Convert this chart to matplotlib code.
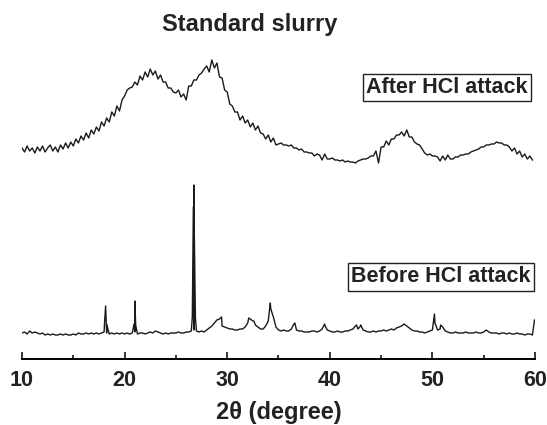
import numpy as np
import matplotlib
matplotlib.use("Agg")
import matplotlib.pyplot as plt
from matplotlib.ticker import MultipleLocator

plt.rcParams['font.family'] = ['Liberation Sans', 'DejaVu Sans']

# top curve (after HCl attack), sampled every 0.25 deg from 10
after_x = np.arange(10, 60, 0.25)
after_y = [
    209, 205, 211, 206, 209, 204, 210, 206, 211, 205, 209, 212, 206, 210, 205, 212,
    208, 214, 209, 215, 211, 218, 214, 221, 217, 224, 219, 227, 223, 230, 226, 235,
    231, 239, 235, 245, 241, 251, 246, 257, 261, 267, 269, 270, 275, 272, 281, 277,
    285, 280, 288, 282, 286, 278, 282, 275, 275, 269, 269, 265, 264, 267, 260, 263,
    257, 271, 271, 277, 277, 282, 284, 288, 291, 285, 297, 289, 294, 280, 279, 267,
    265, 253, 251, 245, 245, 237, 241, 234, 237, 230, 234, 227, 231, 224, 223, 218,
    222, 215, 219, 212, 213, 214, 212, 212, 211, 212, 209, 209, 207, 208, 205, 205,
    204, 204, 201, 203, 202, 197, 203, 198, 198, 199, 197, 197, 196, 197, 195, 196,
    195, 195, 194, 196, 197, 198, 198, 199, 201, 201, 206, 194, 210, 210, 216, 212,
    218, 218, 222, 222, 225, 221, 227, 220, 220, 215, 213, 212, 208, 204, 202, 203,
    201, 201, 200, 196, 201, 197, 202, 198, 198, 200, 200, 202, 202, 203, 203, 205,
    206, 207, 208, 210, 210, 212, 212, 213, 213, 215, 214, 214, 212, 212, 210, 206,
    209, 203, 206, 200, 203, 198, 201, 197,
]

# bottom curve (before HCl attack): baseline every 0.25 deg plus peak samples
before_base_x = np.arange(10, 60.01, 0.25)
before_base_y = [
    24, 25, 23, 26, 24, 25, 24, 23, 24, 22, 23, 22, 23, 22, 22, 23,
    22, 23, 22, 22, 23, 22, 24, 23, 23, 24, 23, 24, 23, 24, 23, 24,
    25, 24, 23, 24, 23, 24, 23, 24, 23, 24, 23, 24, 25, 23, 24, 24,
    23, 24, 25, 24, 26, 25, 24, 23, 24, 23, 24, 24, 24, 25, 24, 24,
    25, 25, 26, 27, 26, 25, 26, 25, 27, 29, 31, 34, 37, 38, 31, 30,
    29, 28, 28, 27, 27, 28, 28, 30, 34, 38, 36, 32, 30, 28, 28, 31,
    36, 48, 40, 30, 27, 26, 27, 26, 26, 28, 33, 27, 26, 26, 25, 25,
    25, 26, 26, 25, 26, 28, 32, 27, 26, 25, 25, 26, 25, 25, 26, 26,
    27, 28, 31, 28, 31, 27, 26, 25, 25, 26, 25, 26, 26, 27, 26, 27,
    28, 27, 29, 30, 31, 33, 31, 29, 27, 26, 26, 25, 25, 24, 25, 26,
    27, 34, 27, 28, 30, 26, 25, 24, 24, 25, 24, 24, 24, 25, 24, 24,
    24, 25, 24, 24, 25, 27, 25, 24, 24, 24, 23, 24, 24, 23, 24, 23,
    23, 24, 23, 23, 22, 23, 23, 22, 37,
]
peak_x = [18.05, 18.15, 18.25, 20.92, 21.0, 21.08, 26.6, 26.7, 26.75, 26.8, 26.9,
          29.45, 32.1, 32.6, 34.2, 36.6, 39.5, 42.6, 43.0, 50.2, 50.8, 59.95]
peak_y = [35, 51, 33, 33, 56, 32, 40, 150, 172, 120, 40,
          40, 39, 36, 54, 34, 33, 32, 32, 43, 32, 37]

bx = np.concatenate([before_base_x, peak_x])
by = np.concatenate([before_base_y, peak_y])
order = np.argsort(bx)
bx, by = bx[order], by[order]

fig = plt.figure(figsize=(5.47, 4.25), dpi=100)
ax = fig.add_axes([22/547, 66/425, 513/547, 319/425])

ax.plot(after_x, after_y, color='#1a1a1a', lw=1.0)
ax.plot(bx, by, color='#1a1a1a', lw=1.0)

ax.set_xlim(10, 60)
ax.set_ylim(-2, 317)
for s in ['top', 'left', 'right']:
    ax.spines[s].set_visible(False)
ax.spines['bottom'].set_linewidth(1.4)
ax.set_yticks([])
ax.xaxis.set_major_locator(MultipleLocator(10))
ax.xaxis.set_minor_locator(MultipleLocator(5))
ax.tick_params(axis='x', which='major', direction='in', length=5, width=1.1,
               pad=8, labelsize=15.5, labelcolor='#222222')
ax.tick_params(axis='x', which='minor', direction='in', length=3, width=1.1)
for lab in ax.get_xticklabels():
    lab.set_fontweight('bold')
ax.set_xlabel('2θ (degree)', fontsize=17, fontweight='bold', labelpad=7,
              color='#222222')

box = dict(boxstyle='square,pad=0.15', fc='white', ec='#222222', lw=1)
ax.text(51.4, 269.5, 'After HCl attack', ha='center', va='center',
        fontsize=15.5, fontweight='bold', color='#222222', bbox=box)
ax.text(50.8, 80, 'Before HCl attack', ha='center', va='center',
        fontsize=15.5, fontweight='bold', color='#222222', bbox=box)

fig.text(250/547, 1 - 24/425, 'Standard slurry', ha='center', va='center',
         fontsize=17, fontweight='bold', color='#222222')

fig.savefig('out.png', dpi=100)
